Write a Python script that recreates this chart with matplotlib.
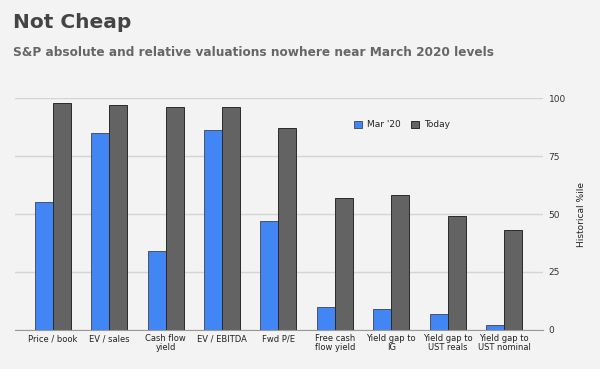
import numpy as np
import matplotlib.pyplot as plt

categories = ["Price / book", "EV / sales", "Cash flow\nyield", "EV / EBITDA", "Fwd P/E",
              "Free cash\nflow yield", "Yield gap to\nIG", "Yield gap to\nUST reals",
              "Yield gap to\nUST nominal"]
mar20 = [55, 85, 34, 86, 47, 10, 9, 7, 2]
today = [98, 97, 96, 96, 87, 57, 58, 49, 43]
yticks = [0, 25, 50, 75, 100]

bg = "#f3f3f3"
blue = "#4285f4"
gray = "#636363"

fig = plt.figure(figsize=(6, 3.69), dpi=100, facecolor=bg)
ax = fig.add_axes([0.025, 0.1057, 0.88, 0.6287], facecolor=bg)

x = np.arange(len(categories))
w = 0.32
ax.bar(x - w/2, mar20, w, color=blue, edgecolor="#2a2a2a", linewidth=0.5, label="Mar '20", zorder=3)
ax.bar(x + w/2, today, w, color=gray, edgecolor="#2a2a2a", linewidth=0.7, label="Today", zorder=3)

ax.set_xlim(-0.67, 8.69)
ax.set_ylim(0, 100)
ax.set_xticks(x)
ax.set_xticklabels(categories, fontsize=6, color="#222222", linespacing=0.95)
ax.set_yticks(yticks)
ax.yaxis.tick_right()
ax.yaxis.set_label_position("right")
ax.tick_params(axis="y", length=0, labelsize=6.5, colors="#333333", pad=4)
ax.tick_params(axis="x", length=0, pad=3)
ax.set_ylabel("Historical %ile", fontsize=6.5, color="#222222", labelpad=8)
ax.grid(axis="y", color="#d4d4d4", linewidth=1, zorder=0)
for s in ["top", "right", "left"]:
    ax.spines[s].set_visible(False)
ax.spines["bottom"].set_color("#999999")
ax.spines["bottom"].set_zorder(4)

fig.legend(loc="center", bbox_to_anchor=(402/600, 1 - 125/369), ncol=2, frameon=False,
           fontsize=6.5, handlelength=0.9, handleheight=0.9, handletextpad=0.5,
           columnspacing=1.2, labelcolor="#222222")

fig.text(13/600, 1 - 23/369, "Not Cheap", fontsize=14.5, fontweight="bold",
         color="#444444", va="center")
fig.text(13/600, 1 - 53/369, "S&P absolute and relative valuations nowhere near March 2020 levels",
         fontsize=8.7, fontweight="bold", color="#666666", va="center")

fig.savefig("out.png", dpi=100, facecolor=bg)
